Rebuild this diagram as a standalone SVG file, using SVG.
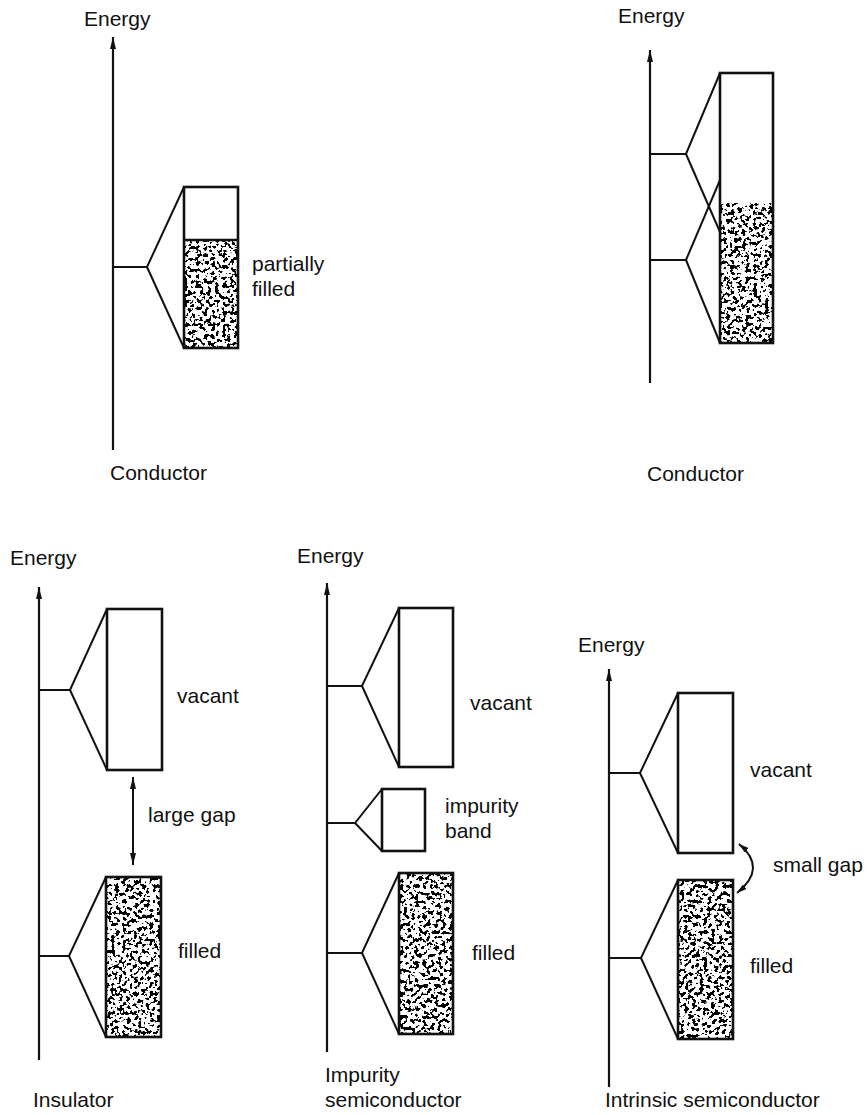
<svg xmlns="http://www.w3.org/2000/svg" width="867" height="1115" viewBox="0 0 867 1115">
<style>
  .ln{stroke:#111;stroke-width:2;fill:none;stroke-linejoin:miter}
  .box{stroke:#111;stroke-width:2.6;fill:none}
  .ax{stroke:#111;stroke-width:2.2;fill:none}
  .sp{fill:#000}
  text{font-family:"Liberation Sans",Arial,Helvetica,sans-serif;font-size:21px;fill:#111}
</style>
<defs>
  <marker id="arr" viewBox="0 0 12 6" refX="12" refY="3" markerWidth="12" markerHeight="6" markerUnits="userSpaceOnUse" orient="auto-start-reverse">
    <path d="M0,0 L12,3 L0,6 z" fill="#111"/>
  </marker>
  <marker id="arrs" viewBox="0 0 10 6" refX="10" refY="3" markerWidth="10" markerHeight="6" markerUnits="userSpaceOnUse" orient="auto-start-reverse">
    <path d="M0,0 L10,3 L0,6 z" fill="#111"/>
  </marker>
  <filter id="speckle" x="0" y="0" width="1" height="1">
    <feTurbulence type="fractalNoise" baseFrequency="0.26" numOctaves="2" seed="11" result="noise"/>
    <feColorMatrix in="noise" type="matrix" values="0 0 0 0 0  0 0 0 0 0  0 0 0 0 0  -30 0 0 0 14.0" result="dots"/>
    <feComposite in="dots" in2="SourceGraphic" operator="in"/>
  </filter>
</defs>
<rect x="0" y="0" width="867" height="1115" fill="#fff"/>

<!-- Panel 1: Conductor (partially filled) -->
<g id="conductor1">
  <text x="84" y="26">Energy</text>
  <g id="conductor1-band">
    <rect class="sp" x="184" y="240" width="54" height="108" filter="url(#speckle)"/>
    <rect class="box" x="184" y="187" width="54" height="161"/>
    <line class="box" x1="184" y1="240" x2="238" y2="240"/>
  </g>
  <text x="252" y="271">partially</text>
  <text x="252" y="296">filled</text>
  <text x="110" y="480">Conductor</text>
</g>

<!-- Panel 2: Conductor (overlapping bands) -->
<g id="conductor2">
  <text x="618" y="23">Energy</text>
  <g id="conductor2-band">
    <rect class="sp" x="720" y="203" width="53" height="140" filter="url(#speckle)"/>
    <rect class="box" x="720" y="73" width="53" height="270"/>
  </g>
  <text x="647" y="481">Conductor</text>
</g>

<!-- Panel 3: Insulator -->
<g id="insulator">
  <text x="10" y="565">Energy</text>
  <g id="insulator-vacant">
    <rect class="box" x="107" y="609" width="55" height="161"/>
  </g>
  <g id="insulator-filled">
    <rect class="sp" x="106" y="877" width="55" height="160" filter="url(#speckle)"/>
    <rect class="box" x="106" y="877" width="55" height="160"/>
  </g>
  <text x="177" y="703">vacant</text>
  <text x="148" y="822">large gap</text>
  <text x="178" y="958">filled</text>
  <text x="33" y="1107">Insulator</text>
</g>

<!-- Panel 4: Impurity semiconductor -->
<g id="impurity">
  <text x="297" y="563">Energy</text>
  <g id="impurity-vacant">
    <rect class="box" x="399" y="608" width="54" height="159"/>
  </g>
  <g id="impurity-band">
    <rect class="box" x="382" y="789" width="43" height="62"/>
  </g>
  <g id="impurity-filled">
    <rect class="sp" x="399" y="873" width="54" height="161" filter="url(#speckle)"/>
    <rect class="box" x="399" y="873" width="54" height="161"/>
  </g>
  <text x="470" y="710">vacant</text>
  <text x="445" y="813">impurity</text>
  <text x="445" y="838">band</text>
  <text x="472" y="960">filled</text>
  <text x="325" y="1082">Impurity</text>
  <text x="325" y="1107">semiconductor</text>
</g>

<!-- Panel 5: Intrinsic semiconductor -->
<g id="intrinsic">
  <text x="578" y="652">Energy</text>
  <g id="intrinsic-vacant">
    <rect class="box" x="678" y="693" width="55" height="160"/>
  </g>
  <g id="intrinsic-filled">
    <rect class="sp" x="678" y="880" width="55" height="159" filter="url(#speckle)"/>
    <rect class="box" x="678" y="880" width="55" height="159"/>
  </g>
  <text x="750" y="777">vacant</text>
  <text x="773" y="872">small gap</text>
  <text x="750" y="973">filled</text>
  <text x="605" y="1107">Intrinsic semiconductor</text>
</g>

<!-- Connectors: axes, level stubs, fork lines, gap arrows -->
<g id="connectors">
  <line class="ax" x1="113" y1="450" x2="113" y2="37" marker-end="url(#arr)"/>
  <line class="ax" x1="650" y1="383" x2="650" y2="50" marker-end="url(#arr)"/>
  <line class="ax" x1="39" y1="1060" x2="39" y2="587" marker-end="url(#arr)"/>
  <line class="ax" x1="327" y1="1052" x2="327" y2="583" marker-end="url(#arr)"/>
  <line class="ax" x1="609" y1="1087" x2="609" y2="669" marker-end="url(#arr)"/>

  <polyline class="ln" points="113,267 147,267 184,187"/>
  <line class="ln" x1="147" y1="267" x2="184" y2="348"/>

  <polyline class="ln" points="650,154 686,154 720,73"/>
  <line class="ln" x1="686" y1="154" x2="720" y2="232"/>
  <polyline class="ln" points="650,260 686,260 720,180"/>
  <line class="ln" x1="686" y1="260" x2="720" y2="343"/>

  <polyline class="ln" points="39,690 70,690 107,609"/>
  <line class="ln" x1="70" y1="690" x2="107" y2="770"/>
  <polyline class="ln" points="39,956 69,956 106,877"/>
  <line class="ln" x1="69" y1="956" x2="106" y2="1037"/>
  <line class="ln" x1="133" y1="821" x2="133" y2="777" marker-end="url(#arr)"/>
  <line class="ln" x1="133" y1="821" x2="133" y2="865" marker-end="url(#arr)"/>

  <polyline class="ln" points="327,686 362,686 399,608"/>
  <line class="ln" x1="362" y1="686" x2="399" y2="767"/>
  <polyline class="ln" points="327,823 355,823 382,789"/>
  <line class="ln" x1="355" y1="823" x2="382" y2="851"/>
  <polyline class="ln" points="327,953 362,953 399,873"/>
  <line class="ln" x1="362" y1="953" x2="399" y2="1034"/>

  <polyline class="ln" points="609,773 640,773 678,693"/>
  <line class="ln" x1="640" y1="773" x2="678" y2="853"/>
  <polyline class="ln" points="609,958 641,958 678,880"/>
  <line class="ln" x1="641" y1="958" x2="678" y2="1039"/>
  <path class="ln" d="M739,844 Q768,868 737,893" marker-start="url(#arrs)" marker-end="url(#arrs)"/>
</g>
</svg>
